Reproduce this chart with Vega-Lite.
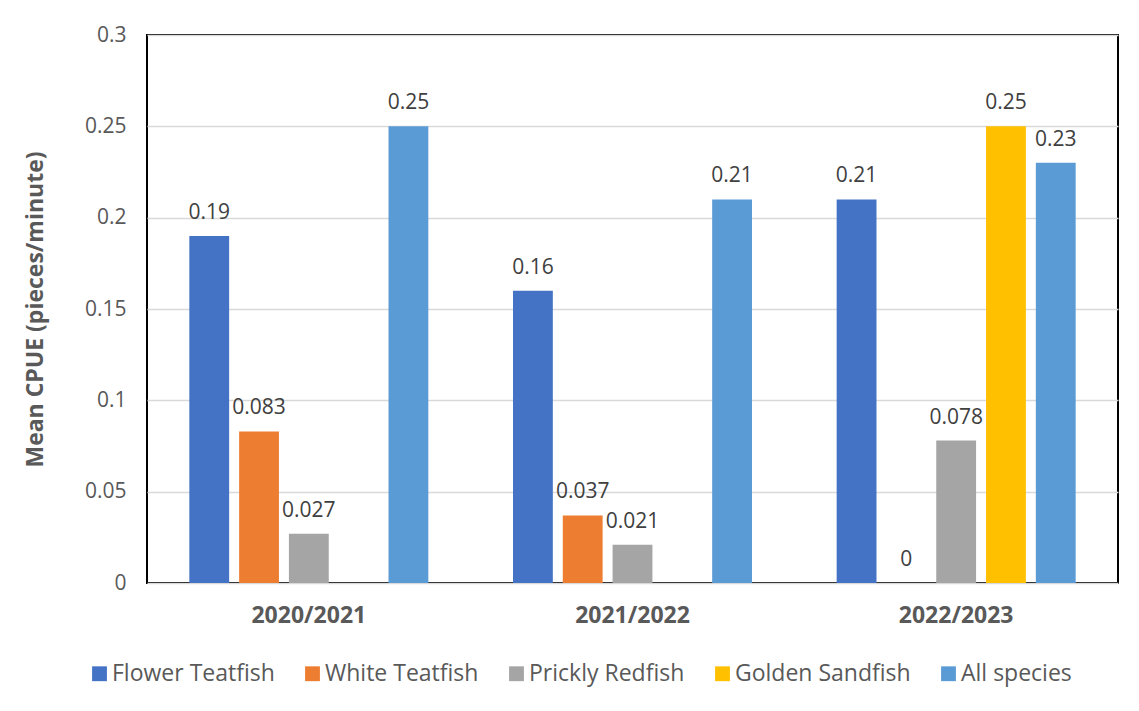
{
  "$schema": "https://vega.github.io/schema/vega-lite/v6.json",
  "autosize": {"type": "none"},
  "width": 971,
  "height": 548,
  "padding": {"left": 147, "top": 35, "right": 21, "bottom": 128},
  "background": "white",
  "config": {
    "font": "Open Sans",
    "view": {"stroke": "black", "strokeWidth": 2}
  },
  "data": {
    "values": [
      {"season": "2020/2021", "species": "Flower Teatfish", "cpue": 0.19},
      {"season": "2020/2021", "species": "White Teatfish", "cpue": 0.083},
      {"season": "2020/2021", "species": "Prickly Redfish", "cpue": 0.027},
      {"season": "2020/2021", "species": "All species", "cpue": 0.25},
      {"season": "2021/2022", "species": "Flower Teatfish", "cpue": 0.16},
      {"season": "2021/2022", "species": "White Teatfish", "cpue": 0.037},
      {"season": "2021/2022", "species": "Prickly Redfish", "cpue": 0.021},
      {"season": "2021/2022", "species": "All species", "cpue": 0.21},
      {"season": "2022/2023", "species": "Flower Teatfish", "cpue": 0.21},
      {"season": "2022/2023", "species": "White Teatfish", "cpue": 0},
      {"season": "2022/2023", "species": "Prickly Redfish", "cpue": 0.078},
      {"season": "2022/2023", "species": "Golden Sandfish", "cpue": 0.25},
      {"season": "2022/2023", "species": "All species", "cpue": 0.23}
    ]
  },
  "encoding": {
    "x": {
      "field": "season", "type": "nominal",
      "scale": {"paddingInner": 0, "paddingOuter": 0},
      "axis": {
        "title": null, "labelAngle": 0, "ticks": false, "domain": false,
        "labelFont": "Open Sans", "labelFontSize": 23, "labelFontWeight": "bold",
        "labelColor": "#595959", "labelPadding": 21
      }
    },
    "xOffset": {
      "field": "species", "type": "nominal",
      "scale": {
        "domain": ["Flower Teatfish", "White Teatfish", "Prickly Redfish", "Golden Sandfish", "All species"],
        "paddingInner": 0.2, "paddingOuter": 0.85
      }
    },
    "y": {
      "field": "cpue", "type": "quantitative",
      "scale": {"domain": [0, 0.3], "nice": false},
      "axis": {
        "title": "Mean CPUE (pieces/minute)",
        "values": [0, 0.05, 0.1, 0.15, 0.2, 0.25, 0.3],
        "format": "~g",
        "ticks": false, "domain": false,
        "grid": true, "gridColor": "#d9d9d9", "gridWidth": 1.5,
        "labelFont": "Open Sans", "labelFontSize": 21, "labelColor": "#595959", "labelPadding": 21,
        "titleFont": "Open Sans", "titleFontSize": 23, "titleFontWeight": "bold", "titleColor": "#595959",
        "titlePadding": 37
      }
    }
  },
  "layer": [
    {
      "mark": {"type": "bar"},
      "encoding": {
        "color": {
          "field": "species", "type": "nominal",
          "scale": {
            "domain": ["Flower Teatfish", "White Teatfish", "Prickly Redfish", "Golden Sandfish", "All species"],
            "range": ["#4472C4", "#ED7D31", "#A5A5A5", "#FFC000", "#5B9BD5"]
          },
          "legend": {
            "title": null, "orient": "none", "direction": "horizontal", "columns": 5,
            "legendX": -59, "legendY": 627,
            "symbolType": "square", "symbolSize": 220, "symbolStrokeWidth": 0,
            "labelFont": "Open Sans", "labelFontSize": 23, "labelColor": "#595959",
            "labelOffset": 1, "columnPadding": 26, "labelLimit": 400
          }
        }
      }
    },
    {
      "mark": {"type": "text", "dy": -13, "baseline": "bottom", "fontSize": 21, "color": "#404040", "font": "Open Sans"},
      "encoding": {
        "text": {"field": "cpue", "type": "quantitative", "format": "~g"}
      }
    }
  ]
}
